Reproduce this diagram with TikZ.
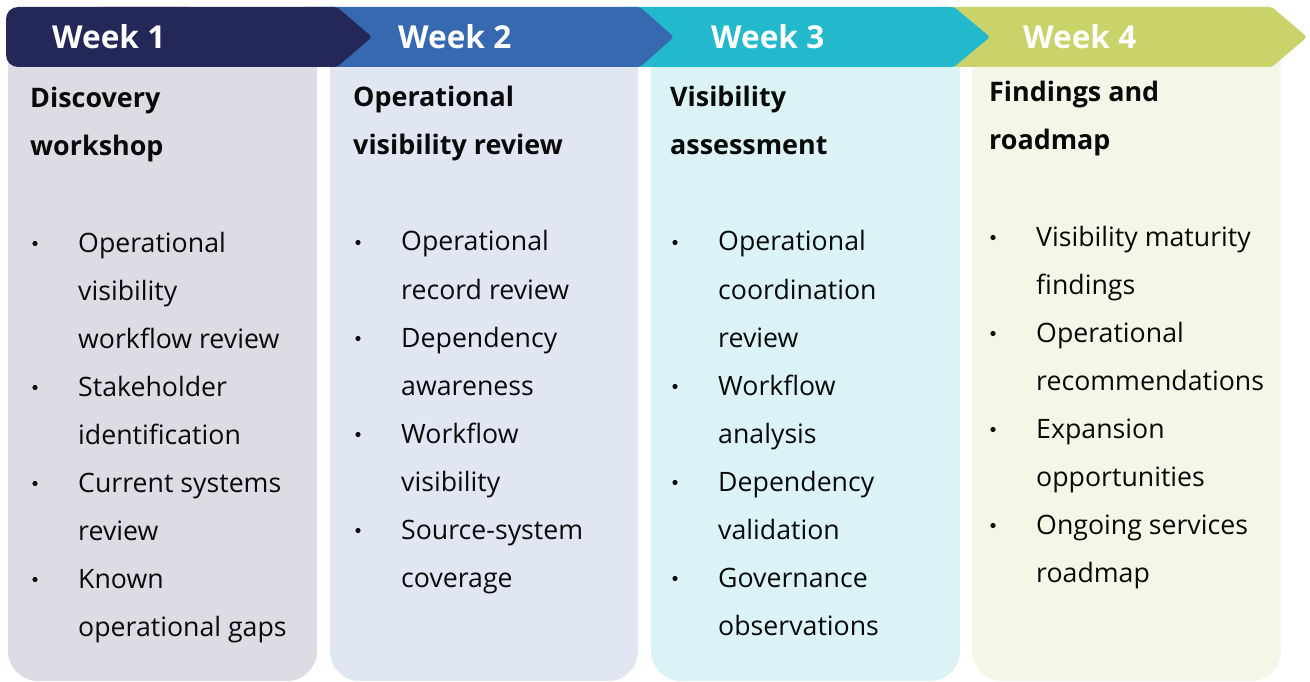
\documentclass[tikz,border=0pt]{standalone}
\usepackage{fontspec}
\setmainfont{Open Sans}
\definecolor{wkone}{HTML}{232859}
\definecolor{wktwo}{HTML}{3769B0}
\definecolor{wkthree}{HTML}{22B9CD}
\definecolor{wkfour}{HTML}{C9D36A}
\definecolor{pnone}{HTML}{DCDCE5}
\definecolor{pntwo}{HTML}{E0E6F2}
\definecolor{pnthree}{HTML}{DBF2F6}
\definecolor{pnfour}{HTML}{F4F6E8}
\definecolor{ink}{HTML}{0A0A0A}
\begin{document}
\begin{tikzpicture}[x=1pt,y=-1pt,
  weeklabel/.style={anchor=base west,inner sep=0pt,text=white,font=\fontsize{31.6}{36}\selectfont\bfseries},
  phasetitle/.style={anchor=base west,inner sep=0pt,text=ink,font=\fontsize{26.9}{30}\selectfont\bfseries},
  itemline/.style={anchor=base west,inner sep=0pt,text=ink,font=\fontsize{26.7}{30}\selectfont},
  bulletdot/.style={circle,fill=ink,inner sep=0pt,minimum size=5.2pt},
  panel/.style={rounded corners=30}]
\useasboundingbox (0,0) rectangle (1310,682);

% column panels
\fill[pnone,panel]   (8,20)   rectangle (317,681);
\fill[pntwo,panel]   (330,20) rectangle (638,681);
\fill[pnthree,panel] (651,20) rectangle (960,681);
\fill[pnfour,panel]  (972,20) rectangle (1281,681);

% header chevrons, drawn right to left so each tip overlaps the next band
\fill[wkfour,rounded corners=3]  (940,7) -- (1272,7) -- (1307,37) -- (1272,67) -- (940,67) -- cycle;
\fill[wkthree,rounded corners=3] (620,7) -- (954,7) -- (990,37) -- (954,67) -- (620,67) -- cycle;
\fill[wktwo,rounded corners=3]   (300,7) -- (640,7) -- (674,37) -- (640,67) -- (300,67) -- cycle;
\fill[wkone,rounded corners=3]   (100,7) -- (337,7) -- (372,37) -- (337,67) -- (100,67) -- cycle;
\fill[wkone,rounded corners=12]  (6,7) rectangle (200,67);

\node[weeklabel] (wk1) at (52,49)   {Week 1};
\node[weeklabel] (wk2) at (398,49)  {Week 2};
\node[weeklabel] (wk3) at (711,49)  {Week 3};
\node[weeklabel] (wk4) at (1023,49) {Week 4};

% Week 1
\node[phasetitle] (t1a) at (30,108) {Discovery};
\node[phasetitle] (t1b) at (30,156) {workshop};
\foreach \y in {252,396,492,588} \node[bulletdot] (b1-\y) at (35,\y-8.5) {};
\foreach \txt [count=\i] in {Operational,visibility,workflow review,Stakeholder,identification,Current systems,review,Known,operational gaps}
  \node[itemline] (l1-\i) at (78,{252+48*(\i-1)}) {\txt};

% Week 2
\node[phasetitle] (t2a) at (353,107) {Operational};
\node[phasetitle] (t2b) at (353,155) {visibility review};
\foreach \y in {251,347,443,539} \node[bulletdot] (b2-\y) at (358,\y-8.5) {};
\foreach \txt [count=\i] in {Operational,record review,Dependency,awareness,Workflow,visibility,Source-system,coverage}
  \node[itemline] (l2-\i) at (401,{251+48*(\i-1)}) {\txt};

% Week 3
\node[phasetitle] (t3a) at (670,107) {Visibility};
\node[phasetitle] (t3b) at (670,155) {assessment};
\foreach \y in {251,395,491,587} \node[bulletdot] (b3-\y) at (675,\y-8.5) {};
\foreach \txt [count=\i] in {Operational,coordination,review,Workflow,analysis,Dependency,validation,Governance,observations}
  \node[itemline] (l3-\i) at (718,{251+48*(\i-1)}) {\txt};

% Week 4
\node[phasetitle] (t4a) at (989,102) {Findings and};
\node[phasetitle] (t4b) at (989,150) {roadmap};
\foreach \y in {246,342,438,534} \node[bulletdot] (b4-\y) at (993,\y-8.5) {};
\foreach \txt [count=\i] in {Visibility maturity,findings,Operational,recommendations,Expansion,opportunities,Ongoing services,roadmap}
  \node[itemline] (l4-\i) at (1036,{246+48*(\i-1)}) {\txt};
\end{tikzpicture}
\end{document}
